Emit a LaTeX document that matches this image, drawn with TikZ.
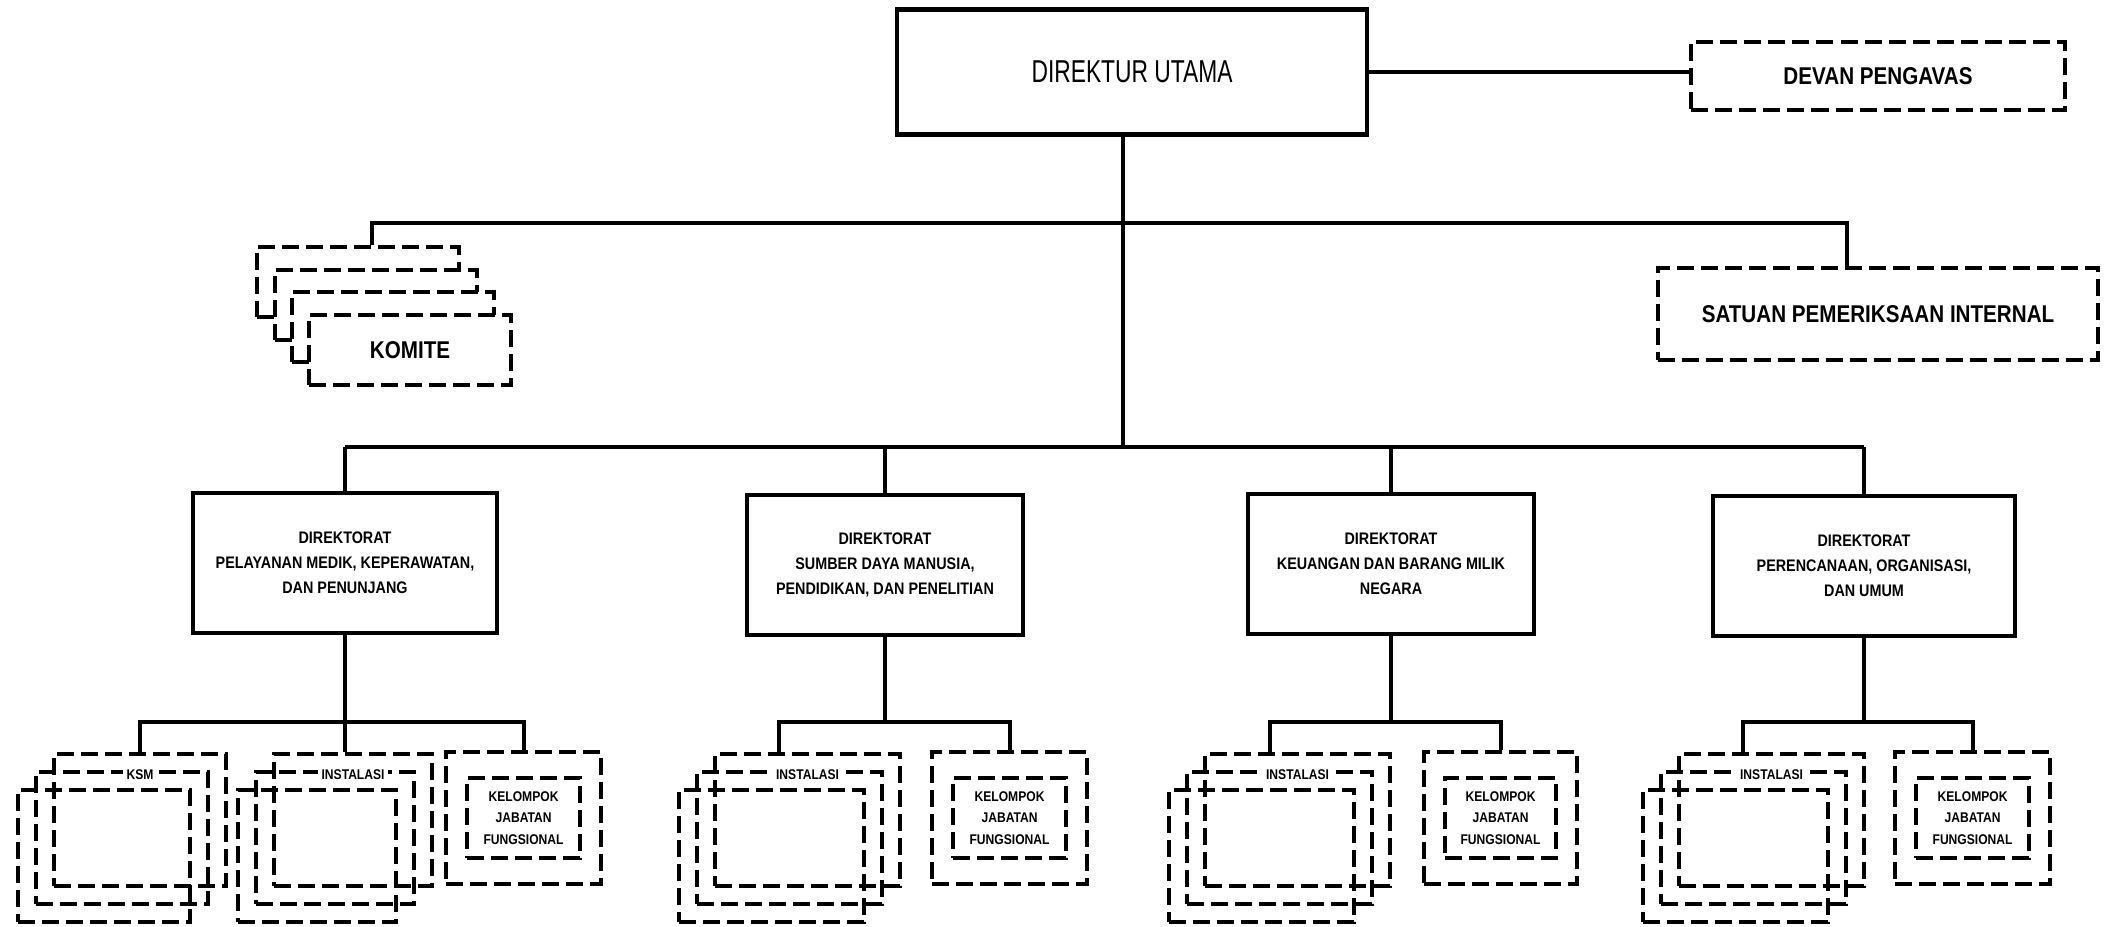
\documentclass[tikz,border=0pt]{standalone}
\usepackage{fontspec}
\setmainfont{Liberation Sans}
\newfontfamily\condfont[FakeStretch=0.72]{Liberation Sans}
\newfontfamily\headfont[FakeStretch=0.85]{Liberation Sans}
\newfontfamily\narrowfont[FakeStretch=0.86]{Liberation Sans}
\tikzset{
	solidbox/.style={draw, line width=1.2pt, fill=white, inner sep=0pt, align=center},
	dashbox/.style={draw, line width=1.15pt, dash pattern=on 0.17cm off 0.07cm, inner sep=0pt, align=center},
	bus/.style={line width=1.1pt},
	headtext/.style={font=\fontsize{6.9}{8}\headfont\bfseries},
	dirtext/.style={font=\fontsize{4.75}{7.1}\narrowfont\bfseries},
	unittext/.style={font=\fontsize{4}{6.2}\narrowfont\bfseries, align=center, inner sep=0pt},
}
% name, x, y, width, text
\newcommand{\unitstack}[5]{%
	\foreach \k in {2,1}
		\node[dashbox, minimum width=#4, minimum height=1.32cm, anchor=north west] (#1\k) at ({#2-18*\k},{#3+18*\k}) {};
	\node[dashbox, minimum width=#4, minimum height=1.32cm, anchor=north west] (#1) at (#2,#3) {};
	\node[unittext, fill=white, inner sep=1pt] (#1t) at ([yshift=-0.23cm]#1.north) {#5};
}
% name, x, y, width
\newcommand{\fungsional}[4]{%
	\node[dashbox, minimum width=#4, minimum height=1.32cm, anchor=north west] (#1) at (#2,#3) {};
	\node[dashbox, minimum width=#4-0.42cm, minimum height=0.80cm, unittext] (#1t) at (#1.center) {KELOMPOK\\JABATAN\\FUNGSIONAL};
}

\begin{document}
\begin{tikzpicture}[x=0.01cm, y=-0.01cm]
			%%%%% START %%%%%
			\useasboundingbox (0,0) rectangle (2107,926);
			
			\node[solidbox, minimum width=4.70cm, minimum height=1.25cm, font=\fontsize{9}{11}\condfont] (utama) at (1132,72) {DIREKTUR UTAMA};
			\node[dashbox, headtext, minimum width=3.73cm, minimum height=0.68cm] (dewas) at (1878,76) {DEVAN PENGAVAS};
			\draw[bus] (utama.east) -- (utama.east -| dewas.west);
			
			\coordinate (t1) at (1123,223);
			\coordinate (t2) at (1123,447);
			\draw[bus] (utama.south -| t1) -- (t2);
			
			% komite
			\foreach \x/\y [count=\i from 0] in {255/245, 273/268, 290/290}
				\node[dashbox, fill=white, minimum width=2.02cm, minimum height=0.70cm, anchor=north west] (komite\i) at (\x,\y) {};
			\node[dashbox, fill=white, headtext, minimum width=2.02cm, minimum height=0.70cm, anchor=north west] (komite) at (307,313) {KOMITE};
			
			\node[dashbox, headtext, minimum width=4.40cm, minimum height=0.92cm] (spi) at (1878,314) {SATUAN PEMERIKSAAN INTERNAL};
			
			\coordinate (b1l) at (372,223);
			\coordinate (b1r) at (1847,223);
			\draw[bus] (b1l |- komite0.north) -- (b1l) -- (b1r) -- (b1r |- spi.north);
			
			% direktorat
			\node[solidbox, dirtext, minimum width=3.04cm, minimum height=1.40cm] (dir1) at (345,563) {DIREKTORAT\\PELAYANAN MEDIK, KEPERAWATAN,\\DAN PENUNJANG};
			\node[solidbox, dirtext, minimum width=2.76cm, minimum height=1.40cm] (dir2) at (885,565) {DIREKTORAT\\SUMBER DAYA MANUSIA,\\PENDIDIKAN, DAN PENELITIAN};
			\node[solidbox, dirtext, minimum width=2.86cm, minimum height=1.40cm] (dir3) at (1391,564) {DIREKTORAT\\KEUANGAN DAN BARANG MILIK\\NEGARA};
			\node[solidbox, dirtext, minimum width=3.02cm, minimum height=1.40cm] (dir4) at (1864,566) {DIREKTORAT\\PERENCANAAN, ORGANISASI,\\DAN UMUM};
			
			\draw[bus] (dir1.north |- t2) -- (dir4.north |- t2);
			\foreach \d in {dir1,dir2,dir3,dir4}
				\draw[bus] (\d.north) -- (\d.north |- t2);
			
			% unit kerja
			\unitstack{ksm}{52}{752}{1.72cm}{KSM}
			\unitstack{ins1}{272}{752}{1.58cm}{INSTALASI}
			\fungsional{kjf1}{444}{750}{1.55cm}
			
			\unitstack{ins2}{713}{752}{1.85cm}{INSTALASI}
			\fungsional{kjf2}{930}{750}{1.55cm}
			
			\unitstack{ins3}{1203}{752}{1.85cm}{INSTALASI}
			\fungsional{kjf3}{1422}{750}{1.53cm}
			
			\unitstack{ins4}{1677}{752}{1.85cm}{INSTALASI}
			\fungsional{kjf4}{1893}{750}{1.55cm}
			
			\coordinate (g1) at (140,722);
			\coordinate (g2) at (779,722);
			\coordinate (g3) at (1270,722);
			\coordinate (g4) at (1743,722);
			
			\draw[bus] (dir1.south) -- (dir1.south |- ins1.north);
			\draw[bus] (g1 |- ksm.north) -- (g1) -- (kjf1.north |- g1) -- (kjf1.north);
			\foreach \n in {2,3,4} {
				\draw[bus] (dir\n.south) -- (dir\n.south |- g\n);
				\draw[bus] (g\n |- ins\n.north) -- (g\n) -- (kjf\n.north |- g\n) -- (kjf\n.north);
			}
			
			%%%%% END %%%%%
\end{tikzpicture}
\end{document}
